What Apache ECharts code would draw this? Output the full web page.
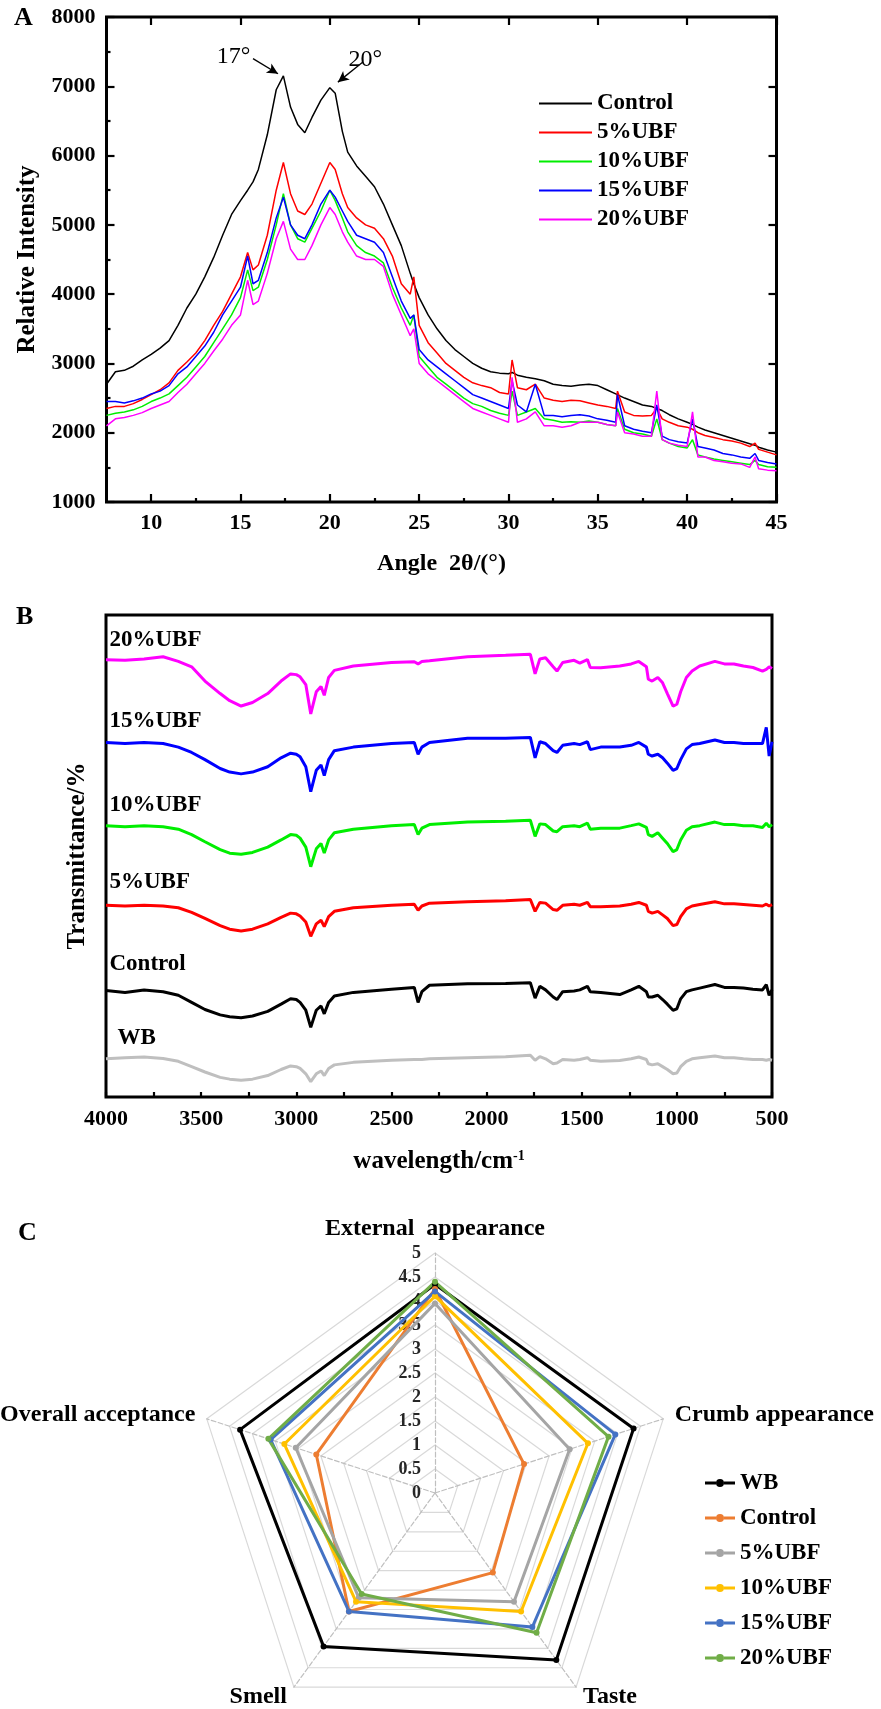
<!DOCTYPE html>
<html>
<head>
<meta charset="utf-8">
<script src="https://cdn.jsdelivr.net/npm/echarts@6.0.0/dist/echarts.min.js"></script>
<style>html,body{margin:0;padding:0;background:#fff;}#chart{width:881px;height:1709px;}</style>
</head>
<body>
<div id="chart"></div>
<script>
// ---------------- Panel A: XRD ----------------
const A_ANGLE = [7.5,8,8.5,9,9.5, 10,10.5,11,11.5,12, 12.5,13,13.5,14,14.5, 15,15.4,15.7,16,16.5,
  17,17.4,17.8,18.2,18.6, 19,19.5,20,20.3,20.7, 21,21.5,22,22.5,23, 23.5,24,24.5,24.7,25,
  25.5,26,26.5,27,27.5, 28,28.5,29,29.5,30, 30.2,30.5,31,31.5,32, 32.5,33,33.5,34,34.5,
  35,35.5,36,36.1,36.5, 37,37.5,38,38.3,38.6, 39,39.5,40,40.3,40.6, 41,41.5,42,42.5,43, 43.5,43.8,44,44.5,45];
const A_CONTROL = [2700,2880,2900,2960,3050, 3130,3220,3330,3550,3800, 4000,4250,4530,4850,5150, 5350,5500,5620,5800,6300,
  6950,7150,6700,6450,6330, 6550,6800,6980,6900,6350, 6050,5850,5700,5550,5300, 5000,4700,4300,4150,3950,
  3700,3500,3330,3200,3100, 3000,2930,2880,2860,2850, 2870,2830,2800,2780,2750, 2700,2680,2670,2690,2700,
  2680,2620,2560,2580,2500, 2450,2400,2380,2350,2320, 2260,2200,2150,2120,2080, 2040,2000,1960,1920,1880, 1840,1820,1790,1750,1720];
const A_UBF5 = [2350,2380,2380,2420,2480, 2550,2620,2720,2900,3020, 3150,3330,3550,3750,4000, 4250,4600,4350,4420,4850,
  5500,5900,5450,5200,5150, 5300,5600,5900,5800,5450, 5250,5100,5000,4950,4800, 4550,4150,4000,4250,3550,
  3300,3150,3000,2900,2800, 2720,2680,2650,2580,2560, 3050,2650,2620,2700,2500, 2470,2450,2470,2460,2430,
  2400,2380,2350,2600,2300, 2250,2240,2250,2350,2200, 2150,2100,2080,2050,2000, 1960,1930,1900,1880,1850, 1800,1850,1760,1720,1680];
const A_UBF10 = [2250,2280,2300,2330,2380, 2450,2500,2560,2680,2800, 2950,3100,3300,3500,3700, 3950,4350,4050,4100,4500,
  5000,5450,5000,4800,4750, 4950,5200,5500,5350,5100, 4900,4700,4600,4550,4450, 4100,3800,3550,3700,3100,
  2950,2800,2700,2600,2500, 2420,2380,2320,2280,2250, 2600,2250,2300,2350,2200, 2180,2150,2160,2150,2170,
  2150,2120,2100,2350,2050, 2000,1980,1950,2200,1900, 1850,1800,1780,1900,1680, 1650,1620,1600,1580,1560, 1540,1600,1540,1510,1500];
const A_UBF15 = [2450,2450,2430,2460,2500, 2560,2600,2680,2850,2950, 3100,3250,3450,3700,3900, 4100,4550,4150,4200,4600,
  5100,5400,5000,4850,4800, 5000,5300,5500,5400,5200, 5050,4850,4800,4750,4600, 4250,3900,3650,3700,3200,
  3050,2950,2850,2750,2650, 2550,2500,2450,2400,2350, 2750,2400,2300,2700,2250, 2250,2230,2250,2260,2240,
  2200,2180,2150,2550,2100, 2050,2020,2000,2400,1950, 1900,1870,1850,2200,1800, 1780,1750,1700,1680,1650, 1630,1700,1600,1570,1550];
const A_UBF20 = [2100,2200,2220,2250,2290, 2350,2400,2450,2580,2700, 2850,3000,3180,3350,3550, 3700,4200,3850,3900,4300,
  4800,5050,4650,4500,4500, 4700,5000,5250,5150,4900, 4750,4550,4500,4500,4400, 4000,3700,3400,3500,3000,
  2850,2750,2650,2550,2450, 2350,2300,2250,2200,2150, 2800,2150,2200,2300,2100, 2100,2080,2100,2150,2150,
  2150,2120,2100,2300,2000, 1980,1950,1950,2600,1900, 1850,1820,1800,2300,1650, 1650,1600,1580,1560,1550, 1500,1650,1480,1460,1450];
const A_NAMES = ['Control','5%UBF','10%UBF','15%UBF','20%UBF'];
const A_X_TICKS = [10,15,20,25,30,35,40,45];
const A_X_MINOR = [12.5,17.5,22.5,27.5,32.5,37.5,42.5];
const A_ANNOT = [
  {text:'17°', from:[15.7,7400], to:[17.1,7180]},
  {text:'20°', from:[21.85,7350], to:[20.45,7060]}
];

// ---------------- Panel B: FTIR ----------------
const B_WAVENUMBER = [4000,3900,3800,3700,3620, 3550,3480,3400,3350,3290, 3230,3150,3080,3030,3000, 2980,2950,2924,2895,2870,
  2853,2830,2800,2700,2500, 2380,2360,2340,2300,2100, 1900,1770,1745,1720,1690, 1650,1630,1600,1540,1510,
  1470,1455,1400,1300,1240, 1200,1160,1150,1130,1100, 1075,1050,1020,1000,980, 950,920,880,800,750,
  700,650,600,550,530, 515,500];
const B_UBF20 = [1225,1223,1227,1233,1220, 1205,1165,1130,1110,1095, 1105,1130,1165,1185,1183, 1177,1155,1073,1135,1150,
  1125,1175,1195,1207,1217, 1219,1213,1220,1222,1233, 1237,1240,1185,1227,1230, 1205,1193,1217,1223,1215,
  1225,1203,1202,1207,1213, 1220,1205,1170,1165,1175, 1160,1130,1095,1100,1135, 1175,1193,1207,1220,1213,
  1213,1207,1203,1193,1198, 1205,1200];
const B_UBF15 = [993,990,993,990,980, 965,945,920,910,905, 910,925,950,963,960, 953,925,855,915,930,
  900,945,970,980,990, 993,960,980,993,1005, 1005,1007,950,995,990, 970,965,985,990,987,
  995,973,980,980,985, 993,980,960,955,960, 950,935,915,920,945, 975,987,990,1000,993,
  993,990,990,990,1035, 955,995];
const B_UBF10 = [760,757,760,757,750, 735,715,693,683,680, 685,700,720,735,733, 725,700,645,695,710,
  683,720,740,750,760, 763,735,753,763,770, 772,775,730,765,763, 745,743,757,760,757,
  767,750,753,753,760, 765,755,735,730,740, 725,710,687,693,720, 747,757,760,770,763,
  763,760,760,755,767, 757,763];
const B_UBF5 = [537,535,537,535,530, 517,500,480,470,465, 470,485,503,515,513, 507,490,450,485,495,
  477,505,520,530,537, 540,523,535,543,547, 550,553,520,545,543, 525,523,537,540,537,
  545,533,533,535,540, 545,537,520,515,520, 510,500,480,483,505, 527,535,539,547,541,
  541,539,537,535,540, 535,539];
const B_CONTROL = [298,293,300,295,285, 265,245,230,225,222, 227,240,260,275,273, 265,243,195,243,255,
  233,265,283,293,302, 307,265,295,313,317, 318,320,277,310,300, 280,273,295,297,300,
  310,295,293,287,300, 310,295,280,280,285, 273,260,243,247,275, 295,300,305,315,307,
  307,305,302,300,315, 285,300];
const B_WB = [107,110,112,108,100, 85,70,55,50,47, 50,60,77,87,85, 80,65,43,65,73,
  60,80,90,97,103, 105,105,105,107,110, 113,117,103,113,107, 93,95,105,103,105,
  110,103,100,102,107, 112,105,93,90,93, 85,77,65,67,85, 100,107,110,115,110,
  110,107,105,105,103, 105,103];
const B_NAMES = ['20%UBF','15%UBF','10%UBF','5%UBF','Control','WB'];

// ---------------- Panel C: sensory radar ----------------
// listed counter-clockwise from the top, as ECharts lays radar indicators out
const C_AXES = ['External  appearance','Overall acceptance','Smell','Taste','Crumb appearance'];
const C_WB      = [4.35, 4.27, 3.95, 4.30, 4.35];
const C_CONTROL = [4.25, 2.60, 3.05, 2.05, 1.95];
const C_UBF5    = [3.95, 3.05, 2.70, 2.80, 2.95];
const C_UBF10   = [4.10, 3.30, 2.80, 3.05, 3.35];
const C_UBF15   = [4.20, 3.60, 3.05, 3.45, 3.95];
const C_UBF20   = [4.40, 3.65, 2.60, 3.60, 3.80];
const C_NAMES = ['WB','Control','5%UBF','10%UBF','15%UBF','20%UBF'];

// ---------------- styling ----------------
const FONT = 'Liberation Serif';
const T = (size, weight) => ({fontFamily: FONT, fontSize: size, fontWeight: weight || 'bold', color: '#000'});
const A_COLORS = ['#000000','#ff0000','#00ee00','#0000ff','#ff00ff'];
const B_COLORS = ['#ff00ff','#0000ff','#00ee00','#ff0000','#000000','#bfbfbf'];
const B_LABEL_OFF = [[4,-19],[4,-21],[4,-20],[4,-23],[4,-26],[12,-20]];
const C_COLORS = ['#000000','#ED7D31','#A5A5A5','#FFC000','#4472C4','#70AD47'];
const plain = v => String(v);

const aData = [A_CONTROL, A_UBF5, A_UBF10, A_UBF15, A_UBF20];
const bData = [B_UBF20, B_UBF15, B_UBF10, B_UBF5, B_CONTROL, B_WB];
const cData = [C_WB, C_CONTROL, C_UBF5, C_UBF10, C_UBF15, C_UBF20];

const series = [];
aData.forEach((arr, k) => {
  const s = {
    type: 'line', name: A_NAMES[k], xAxisIndex: 0, yAxisIndex: 0,
    showSymbol: false, symbol: 'none', animation: false,
    lineStyle: {color: A_COLORS[k], width: 1.5}, itemStyle: {color: A_COLORS[k]},
    data: A_ANGLE.map((x, i) => [x, arr[i]])
  };
  if (k === 0) {
    s.markLine = {
      silent: true, animation: false, symbol: ['none', 'arrow'], symbolSize: [8, 11],
      lineStyle: {color: '#000', width: 1.3, type: 'solid'},
      label: {show: true, position: 'start', formatter: '{b}', distance: 3, ...T(24, 'normal')},
      data: A_ANNOT.map(a => [{name: a.text, coord: a.from}, {coord: a.to}])
    };
  }
  series.push(s);
});
bData.forEach((arr, k) => {
  series.push({
    type: 'line', name: 'B:' + B_NAMES[k], xAxisIndex: 3, yAxisIndex: 2,
    showSymbol: false, symbol: 'none', animation: false,
    lineStyle: {color: B_COLORS[k], width: 3}, itemStyle: {color: B_COLORS[k]},
    data: B_WAVENUMBER.map((x, i) => [x, arr[i]]),
    markPoint: {
      symbol: 'circle', symbolSize: 1, animation: false, silent: true,
      itemStyle: {color: 'rgba(0,0,0,0)'},
      label: {show: true, position: B_LABEL_OFF[k], align: 'left', verticalAlign: 'middle',
              formatter: B_NAMES[k], ...T(23)},
      data: [{coord: [B_WAVENUMBER[0], arr[0]]}]
    }
  });
});
cData.forEach((arr, k) => {
  series.push({
    type: 'radar', name: 'C:' + C_NAMES[k], radarIndex: 0,
    symbol: 'circle', symbolSize: 6, animation: false,
    lineStyle: {color: C_COLORS[k], width: 3},
    itemStyle: {color: C_COLORS[k]},
    data: [{value: arr, name: 'C:' + C_NAMES[k]}]
  });
});

const tickStyle = {color: '#000', width: 2.2};
const option = {
  animation: false,
  backgroundColor: '#fff',
  title: [
    {text: 'A', left: 14, top: 5, padding: 0, textStyle: T(26)},
    {text: 'B', left: 16, top: 604, padding: 0, textStyle: T(26)},
    {text: 'C', left: 18, top: 1220, padding: 0, textStyle: T(26)}
  ],
  grid: [
    {left: 106.5, top: 17, width: 670, height: 485, show: true, borderColor: '#000', borderWidth: 3, backgroundColor: 'transparent'},
    {left: 106, top: 615, width: 666, height: 482, show: true, borderColor: '#000', borderWidth: 3, backgroundColor: 'transparent'}
  ],
  xAxis: [
    {gridIndex: 0, type: 'value', min: 7.5, max: 45, position: 'bottom',
     axisLine: {show: false}, splitLine: {show: false},
     axisTick: {inside: true, length: 8, customValues: A_X_TICKS, lineStyle: tickStyle},
     axisLabel: {customValues: A_X_TICKS, margin: 10, formatter: plain, ...T(22)},
     name: 'Angle  2θ/(°)', nameLocation: 'middle', nameGap: 50, nameTextStyle: T(24)},
    {gridIndex: 0, type: 'value', min: 7.5, max: 45, position: 'bottom',
     axisLine: {show: false}, splitLine: {show: false}, axisLabel: {show: false},
     axisTick: {inside: true, length: 4, customValues: A_X_MINOR, lineStyle: tickStyle}},
    {gridIndex: 0, type: 'value', min: 7.5, max: 45, position: 'top',
     axisLine: {show: false}, splitLine: {show: false}, axisLabel: {show: false},
     axisTick: {inside: true, length: 8, customValues: A_X_TICKS, lineStyle: tickStyle}},
    {gridIndex: 1, type: 'value', min: 500, max: 4000, interval: 500, inverse: true, position: 'bottom',
     axisLine: {show: false}, splitLine: {show: false},
     axisTick: {inside: true, length: 5, lineStyle: tickStyle},
     minorTick: {show: true, splitNumber: 2, length: 5, lineStyle: tickStyle},
     axisLabel: {margin: 11, formatter: plain, ...T(22)},
     name: 'wavelength/cm{sup|-1}', nameLocation: 'middle', nameGap: 52,
     nameTextStyle: {...T(25), rich: {sup: {...T(14), verticalAlign: 'top', padding: [0, 0, 12, 0]}}}}
  ],
  yAxis: [
    {gridIndex: 0, type: 'value', min: 1000, max: 8000, interval: 1000, position: 'left',
     axisLine: {show: false}, splitLine: {show: false},
     axisTick: {inside: true, length: 8, lineStyle: tickStyle},
     minorTick: {show: true, splitNumber: 2, length: 4, lineStyle: tickStyle},
     axisLabel: {margin: 11, formatter: plain, ...T(22)},
     name: 'Relative Intensity', nameLocation: 'middle', nameGap: 66, nameTextStyle: T(25)},
    {gridIndex: 0, type: 'value', min: 1000, max: 8000, interval: 1000, position: 'right',
     axisLine: {show: false}, splitLine: {show: false}, axisLabel: {show: false},
     axisTick: {inside: true, length: 8, lineStyle: tickStyle}},
    {gridIndex: 1, type: 'value', min: 0, max: 1350, position: 'left',
     axisLine: {show: false}, splitLine: {show: false}, axisLabel: {show: false}, axisTick: {show: false},
     name: 'Transmittance/%', nameLocation: 'middle', nameGap: 16, nameTextStyle: T(25)}
  ],
  legend: [
    {data: A_NAMES, orient: 'vertical', left: 539, top: 92, padding: 0,
     icon: 'path://M0,0h53v2H0z',
     itemWidth: 53, itemHeight: 2, itemGap: 6, textStyle: {...T(23), lineHeight: 23}},
    {data: C_NAMES.map(n => 'C:' + n), orient: 'vertical', left: 705, top: 1471, padding: 0,
     formatter: n => n.slice(2),
     icon: 'path://M0,4.5h11v3H0z M19,4.5h11v3H19z M11,6a4,4 0 1,0 8,0a4,4 0 1,0 -8,0z',
     itemWidth: 30, itemHeight: 8, itemGap: 11, textStyle: {...T(23), lineHeight: 24}}
  ],
  radar: {
    center: [435, 1493], radius: 240, startAngle: 90, splitNumber: 10, shape: 'polygon',
    indicator: C_AXES.map(n => ({name: n, min: 0, max: 5})),
    axisName: {...T(24)}, nameGap: 12,
    splitLine: {lineStyle: {color: '#d9d9d9', width: 1.2}},
    splitArea: {show: false},
    axisLine: {lineStyle: {color: '#bfbfbf', type: 'dashed', width: 1.2}},
    axisTick: {show: false}, axisLabel: {show: false}
  },
  polar: {center: [435, 1493], radius: 240},
  angleAxis: {type: 'value', min: 0, max: 360, startAngle: 90, show: false},
  radiusAxis: {type: 'value', min: 0, max: 5, interval: 0.5,
    axisLine: {show: false}, axisTick: {show: false}, splitLine: {show: false},
    axisLabel: {margin: 14, ...T(18), color: '#262626'}},
  series: series
};
const chart = echarts.init(document.getElementById('chart'), null, {renderer: 'canvas'});
chart.setOption(option);
</script>
</body>
</html>
